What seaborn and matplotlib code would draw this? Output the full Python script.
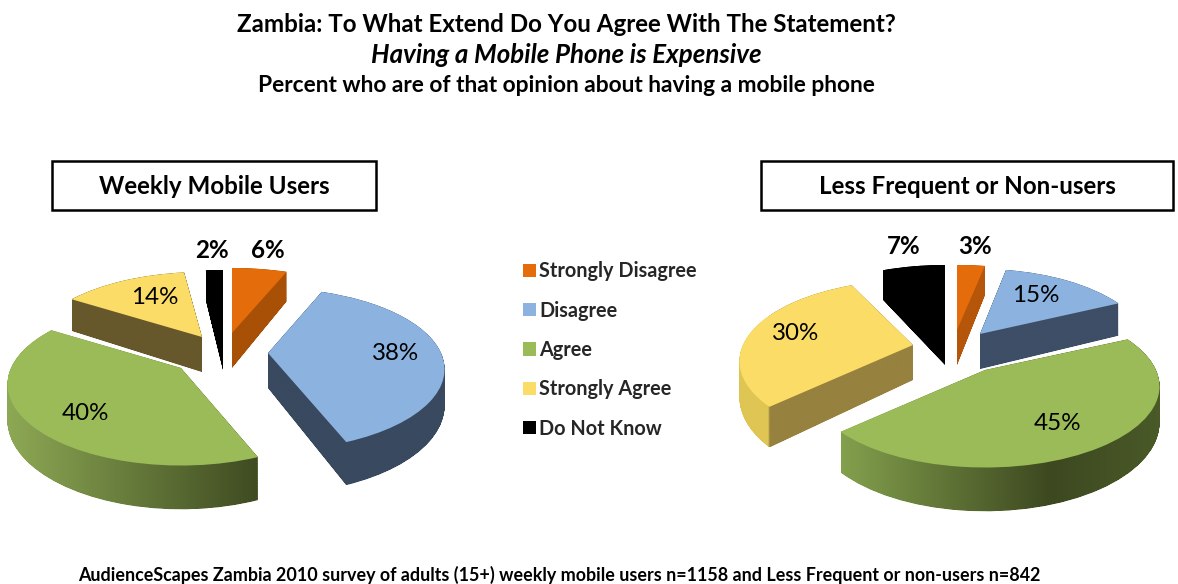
import matplotlib
matplotlib.use("Agg")
import numpy as np
import matplotlib.pyplot as plt
import seaborn as sns
from matplotlib.colors import LinearSegmentedColormap
from matplotlib.patches import Rectangle
from matplotlib.path import Path
from matplotlib.transforms import Transform

# Survey shares, percent
categories = ["Strongly Disagree", "Disagree", "Agree", "Strongly Agree", "Do Not Know"]
weekly_users = [6, 38, 40, 14, 2]
other_users = [3, 15, 45, 30, 7]

title_lines = ["Zambia: To What Extend Do You Agree With The Statement?",
               "Having a Mobile Phone is Expensive",
               "Percent who are of that opinion about having a mobile phone"]
group_titles = ["Weekly Mobile Users", "Less Frequent or Non-users"]
source_note = ("AudienceScapes Zambia 2010 survey of adults (15+) weekly mobile users n=1158 "
               "and Less Frequent or non-users n=842")

# Styling
top_colors = sns.color_palette(["#E46C0A", "#8CB2E0", "#9BBB59", "#FBDC66", "#000000"])
RY, PERSP, DEPTH = 78.0, 0.2, 35.0
DRAW_ORDER = [0, 4, 3, 1, 2]

weekly_style = {
    "apex": [(232, 333), (268, 353), (181, 368), (202, 337), (223, 335)],
    "radius": [176, 173, 170, 171, 165],
    "sides": [[(0, "#A85006"), (1, "#A85006")],
              [(0, "#39495F"), (1, "#39495F")],
              [(0, "#8EAA55"), (1, "#3F4B21")],
              [(0, "#67582C"), (1, "#67582C")],
              [(0, "#000000"), (1, "#000000")]],
    "label_xy": [(268, 251), (396, 354), (85, 414), (155, 297), (212, 251)],
}
other_style = {
    "apex": [(957, 330), (980, 334), (985, 370), (913, 345), (945, 330)],
    "radius": [178, 166, 171, 170, 172],
    "sides": [[(0, "#B5560A"), (1, "#B5560A")],
              [(0, "#3D4E66"), (1, "#3D4E66")],
              [(0, "#83A04D"), (0.65, "#3D4820"), (1, "#4A5A28")],
              [(0, "#DFC553"), (0.17, "#DFC553"), (0.18, "#96813F"), (1, "#96813F")],
              [(0, "#000000"), (1, "#000000")]],
    "label_xy": [(975, 246), (1036, 296), (1057, 424), (796, 334), (904, 246)],
}
BOLD_LABEL = {0, 4}


class TiltedDisc(Transform):
    """Maps unit-disc coordinates to pixels as a disc seen from above, nearer parts larger."""
    input_dims = output_dims = 2

    def __init__(self, apex, radius, sink=0.0):
        super().__init__()
        self.apex, self.radius, self.sink = apex, radius, sink

    def transform_non_affine(self, xy):
        xy = np.asarray(xy, float)
        u, v = xy[:, 0], xy[:, 1]
        g = 1.0 / (1.0 + PERSP * v)
        x = self.apex[0] + self.radius * u * g
        y = self.apex[1] - RY * v * g + self.sink * DEPTH * g
        return np.column_stack([x, y])


def draw_exploded_pie(ax, values, style):
    wedges, _ = ax.pie(values, startangle=90, counterclock=False, radius=1.0, frame=True)
    for rank, i in enumerate(DRAW_ORDER):
        wedge = wedges[i]
        outline = wedge.get_patch_transform().transform_path(wedge.get_path())
        apex, radius = style["apex"][i], style["radius"][i]
        # side wall: the slice outline swept downwards
        swept = [TiltedDisc(apex, radius, s).transform_path(outline)
                 for s in np.linspace(0, 1, 70)]
        wall = Path.make_compound_path(*swept)
        xmin, xmax = wall.vertices[:, 0].min(), wall.vertices[:, 0].max()
        cmap = LinearSegmentedColormap.from_list(f"side{i}", style["sides"][i])
        im = ax.imshow(np.linspace(0, 1, 256)[None, :], cmap=cmap, aspect="auto",
                       extent=(xmin, xmax, wall.vertices[:, 1].max(), wall.vertices[:, 1].min()),
                       zorder=2 + rank, interpolation="bilinear")
        im.set_clip_path(wall, transform=ax.transData)
        # top face
        wedge.set_transform(TiltedDisc(apex, radius) + ax.transData)
        wedge.set_facecolor(top_colors[i])
        wedge.set_edgecolor("none")
        wedge.set_zorder(2.5 + rank)
        wedge.set_clip_on(False)
    for i, (x, y) in enumerate(style["label_xy"]):
        ax.text(x, y, f"{values[i]}%", ha="center", va="center", fontsize=17.4,
                color="black", zorder=20,
                fontweight="bold" if i in BOLD_LABEL else "normal")
    return wedges


sns.set_theme(style="white")
plt.rcParams["font.family"] = ["Lato", "DejaVu Sans"]

fig = plt.figure(figsize=(11.78, 5.84), dpi=100, facecolor="white")
ax = fig.add_axes([0, 0, 1, 1])

weekly_wedges = draw_exploded_pie(ax, weekly_users, weekly_style)
draw_exploded_pie(ax, other_users, other_style)

ax.set_aspect("auto")
ax.set_xlim(0, 1178)
ax.set_ylim(584, 0)
ax.set_frame_on(False)
ax.set_xticks([])
ax.set_yticks([])

# Heading
for y, line, slant, size in zip((25, 55, 85), title_lines, ("normal", "italic", "normal"),
                                (17.4, 18.6, 16.4)):
    ax.text(566, y, line, ha="center", va="center", fontsize=size, fontweight="bold",
            fontstyle=slant, color="black")

# Group captions in outlined boxes
for (x0, x1), caption in zip(((52, 376), (761, 1173)), group_titles):
    ax.add_patch(Rectangle((x0, 161), x1 - x0, 49, facecolor="white", edgecolor="black",
                           linewidth=1.8, zorder=1))
    ax.text((x0 + x1) / 2, 186, caption, ha="center", va="center", fontsize=17.4,
            fontweight="bold", color="black", zorder=1.5)

ax.text(559, 575, source_note, ha="center", va="center", fontsize=12.9, fontweight="bold",
        color="black")

legend = ax.legend(weekly_wedges, categories, loc="center left",
                   bbox_to_anchor=(523 / 1178, 1 - 350 / 584), frameon=False,
                   prop={"size": 14.3, "weight": "bold"}, handlelength=0.65, handleheight=0.65,
                   handletextpad=0.15, labelspacing=0.97, borderpad=0, borderaxespad=0)
legend.set_zorder(30)

fig.savefig("out.png", dpi=100)
